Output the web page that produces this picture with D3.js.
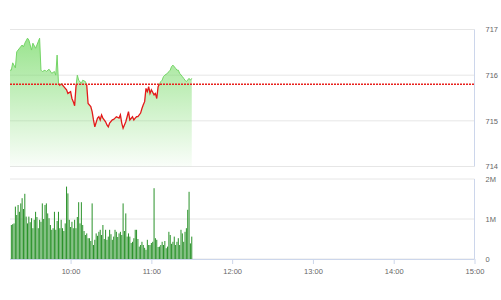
<!DOCTYPE html>
<html>
<head>
<meta charset="utf-8">
<script src="https://cdn.jsdelivr.net/npm/d3@7/dist/d3.min.js"></script>
<style>
  body { margin: 0; background: #fff; }
  text { font-family: "Liberation Sans", Arial, sans-serif; }
</style>
</head>
<body>
<svg id="chart" width="501" height="300"></svg>
<script>
// intraday price (time, index value)
var priceTimes = ["09:15","09:16","09:17","09:19","09:20","09:21","09:24","09:25","09:26","09:28","09:29","09:30",
  "09:31","09:32","09:34","09:35","09:37","09:38","09:39","09:41","09:42","09:44","09:46","09:48","09:49","09:50",
  "09:51","09:52","09:53","09:55","09:57","09:58","10:00","10:01","10:02","10:03","10:04","10:05","10:06","10:08",
  "10:09","10:11","10:12","10:13","10:15","10:16","10:17","10:18","10:20","10:21","10:22","10:23","10:24","10:26",
  "10:27","10:28","10:29","10:31","10:32","10:33","10:34","10:36","10:37","10:38","10:39","10:41","10:42","10:43",
  "10:44","10:46","10:47","10:48","10:49","10:50","10:52","10:53","10:54","10:55","10:56","10:57","10:58","10:59",
  "11:00","11:02","11:03","11:04","11:05","11:07","11:08","11:09","11:10","11:12","11:13","11:14","11:15","11:16",
  "11:18","11:19","11:20","11:21","11:23","11:24","11:25","11:26","11:28","11:29","11:30"];
var priceValues = [716.11,716.11,716.27,716.16,716.51,716.55,716.66,716.62,716.70,716.81,716.77,716.66,
  716.55,716.70,716.59,716.66,716.81,716.11,716.08,716.11,716.08,716.13,716.04,716.08,716.00,716.44,
  715.82,715.78,715.82,715.75,715.68,715.60,715.64,715.49,715.42,715.33,715.75,716.00,715.89,715.82,
  715.89,715.86,715.78,715.38,715.31,715.20,715.02,714.87,715.06,715.09,715.02,715.13,715.06,714.98,
  714.91,714.87,714.95,715.02,715.03,715.06,715.09,715.06,715.13,714.95,714.84,714.98,715.09,715.20,
  715.02,715.09,715.02,715.06,715.09,715.09,715.17,715.27,715.35,715.42,715.71,715.64,715.75,715.60,
  715.68,715.57,715.60,715.49,715.75,715.86,715.89,715.97,716.00,716.04,716.08,716.11,716.19,716.22,
  716.15,716.11,716.11,716.04,715.97,715.93,715.89,715.86,715.93,715.89,715.93];
var refPrice = 715.80;

// volume per minute from 09:16, in millions
var volumeStart = "09:16";
var volumeValues = [0.85,0.87,0.89,1.31,1.10, 1.35,1.18,1.39,1.52,1.25, 1.63,1.06,0.89,1.06,0.92,
  1.02,0.77,0.98,1.18,1.05, 0.77,0.98,0.93,1.39,1.00, 1.35,1.39,1.14,1.02,0.85, 0.73,0.77,1.18,0.73,0.95,
  1.18,0.77,0.98,0.77,0.70, 0.89,1.81,1.64,0.98,0.80, 0.93,0.77,0.98,0.77,1.05, 1.42,0.89,1.42,0.85,0.70,
  0.60,0.64,0.52,0.52,0.45, 1.39,0.35,0.48,0.64,0.58, 0.68,0.73,0.60,0.85,0.50, 0.73,0.48,0.56,0.73,0.62,
  0.48,0.56,0.73,0.68,0.55, 0.64,0.68,0.60,1.39,0.70, 1.14,0.56,0.64,0.56,0.40, 0.43,0.52,0.73,0.73,0.50,
  0.31,0.35,0.43,0.35,0.28, 0.23,0.48,0.35,0.35,0.40, 0.43,1.77,0.52,0.48,0.30, 0.31,0.35,0.43,0.35,0.45,
  0.27,0.31,0.68,0.60,0.38, 0.43,0.56,0.35,0.43,0.52, 0.35,0.73,0.64,0.43,0.68,0.77,1.23,1.68,0.39,0.56];

var priceTicks = [714, 715, 716, 717];
var volumeTicks = [0, 1, 2];
var timeTicks = ["10:00","11:00","12:00","13:00","14:00","15:00"];
var sessionStart = "09:15", sessionEnd = "15:00";

var parseTime = d3.timeParse("%H:%M");
var svg = d3.select("#chart");

var left = 10, right = 474.5;
var top1 = 29.5, bottom1 = 166.5;
var top2 = 179, bottom2 = 259;

var x = d3.scaleTime()
    .domain([parseTime(sessionStart), parseTime(sessionEnd)])
    .range([left, right]);
var yPrice = d3.scaleLinear().domain([714, 717]).range([bottom1, top1]);
var yVol = d3.scaleLinear().domain([0, 2]).range([bottom2, top2]);

var prices = priceTimes.map(function(t, i) { return {t: parseTime(t), v: priceValues[i]}; });
var t0 = parseTime(volumeStart);
var volumes = volumeValues.map(function(v, i) { return {t: d3.timeMinute.offset(t0, i), v: v}; });

var defs = svg.append("defs");
var grad = defs.append("linearGradient")
    .attr("id", "fillGrad")
    .attr("gradientUnits", "userSpaceOnUse")
    .attr("x1", 0).attr("x2", 0)
    .attr("y1", yPrice(716.9)).attr("y2", bottom1);
grad.append("stop").attr("offset", "0%").attr("stop-color", "#7ddc6e").attr("stop-opacity", 0.8);
grad.append("stop").attr("offset", "100%").attr("stop-color", "#7ddc6e").attr("stop-opacity", 0.04);

defs.append("clipPath").attr("id", "clipUp")
  .append("rect").attr("x", 0).attr("y", 0).attr("width", 501).attr("height", yPrice(refPrice));
defs.append("clipPath").attr("id", "clipDown")
  .append("rect").attr("x", 0).attr("y", yPrice(refPrice)).attr("width", 501).attr("height", 300);

// grid
var gridColor = "#e6e6e6", axisColor = "#ccd6eb";
svg.append("g").selectAll("line").data(priceTicks).enter().append("line")
    .attr("x1", left).attr("x2", right)
    .attr("y1", function(d) { return yPrice(d); })
    .attr("y2", function(d) { return yPrice(d); })
    .attr("stroke", gridColor);
svg.append("g").selectAll("line").data(volumeTicks).enter().append("line")
    .attr("x1", left).attr("x2", right)
    .attr("y1", function(d) { return yVol(d); })
    .attr("y2", function(d) { return yVol(d); })
    .attr("stroke", gridColor);

svg.append("line").attr("x1", right).attr("x2", right).attr("y1", top1).attr("y2", bottom1).attr("stroke", axisColor);
svg.append("line").attr("x1", right).attr("x2", right).attr("y1", top2).attr("y2", bottom2).attr("stroke", axisColor);

// price area + line
var area = d3.area()
    .x(function(d) { return x(d.t); })
    .y0(bottom1)
    .y1(function(d) { return yPrice(d.v); });
var line = d3.line()
    .x(function(d) { return x(d.t); })
    .y(function(d) { return yPrice(d.v); });

svg.append("path").datum(prices).attr("d", area).attr("fill", "url(#fillGrad)");
svg.append("path").datum(prices).attr("d", line)
    .attr("fill", "none").attr("stroke", "#74d466").attr("stroke-width", 1)
    .attr("clip-path", "url(#clipUp)");
svg.append("path").datum(prices).attr("d", line)
    .attr("fill", "none").attr("stroke", "#e31a1a").attr("stroke-width", 1.3)
    .attr("clip-path", "url(#clipDown)");

// reference line
svg.append("line")
    .attr("x1", left).attr("x2", right)
    .attr("y1", yPrice(refPrice)).attr("y2", yPrice(refPrice))
    .attr("stroke", "#e8201c").attr("stroke-width", 1.5)
    .attr("stroke-dasharray", "2,1");

// volume bars
svg.append("g").selectAll("rect").data(volumes).enter().append("rect")
    .attr("x", function(d) { return x(d.t) - 0.5; })
    .attr("width", 1)
    .attr("y", function(d) { return yVol(d.v); })
    .attr("height", function(d) { return bottom2 - yVol(d.v); })
    .attr("fill", "#2a922a");

// axes
var labelFont = "Liberation Sans, Arial, sans-serif";
var xAxis = d3.axisBottom(x)
    .tickValues(timeTicks.map(parseTime))
    .tickFormat(d3.timeFormat("%H:%M"))
    .tickSize(5).tickSizeOuter(0);
var gx = svg.append("g").attr("transform", "translate(0," + bottom2 + ")").call(xAxis);
gx.select(".domain").attr("stroke", axisColor).attr("d", "M" + left + ",0.5H" + right);
gx.selectAll(".tick line").attr("stroke", axisColor);
gx.selectAll("text").attr("fill", "#666").attr("font-size", 7.5).attr("dy", "0.9em")
    .attr("font-family", labelFont);

var yAxis1 = d3.axisRight(yPrice).tickValues(priceTicks).tickSize(0).tickPadding(11)
    .tickFormat(d3.format("d"));
var gy1 = svg.append("g").attr("transform", "translate(" + right + ",0)").call(yAxis1);
gy1.select(".domain").remove();
gy1.selectAll("text").attr("fill", "#666").attr("font-size", 7.5)
    .attr("font-family", labelFont);

var yAxis2 = d3.axisRight(yVol).tickValues(volumeTicks).tickSize(0).tickPadding(11)
    .tickFormat(function(d) { return d === 0 ? "0" : d + "M"; });
var gy2 = svg.append("g").attr("transform", "translate(" + right + ",0)").call(yAxis2);
gy2.select(".domain").remove();
gy2.selectAll("text").attr("fill", "#666").attr("font-size", 7.5)
    .attr("font-family", labelFont);
</script>
</body>
</html>
